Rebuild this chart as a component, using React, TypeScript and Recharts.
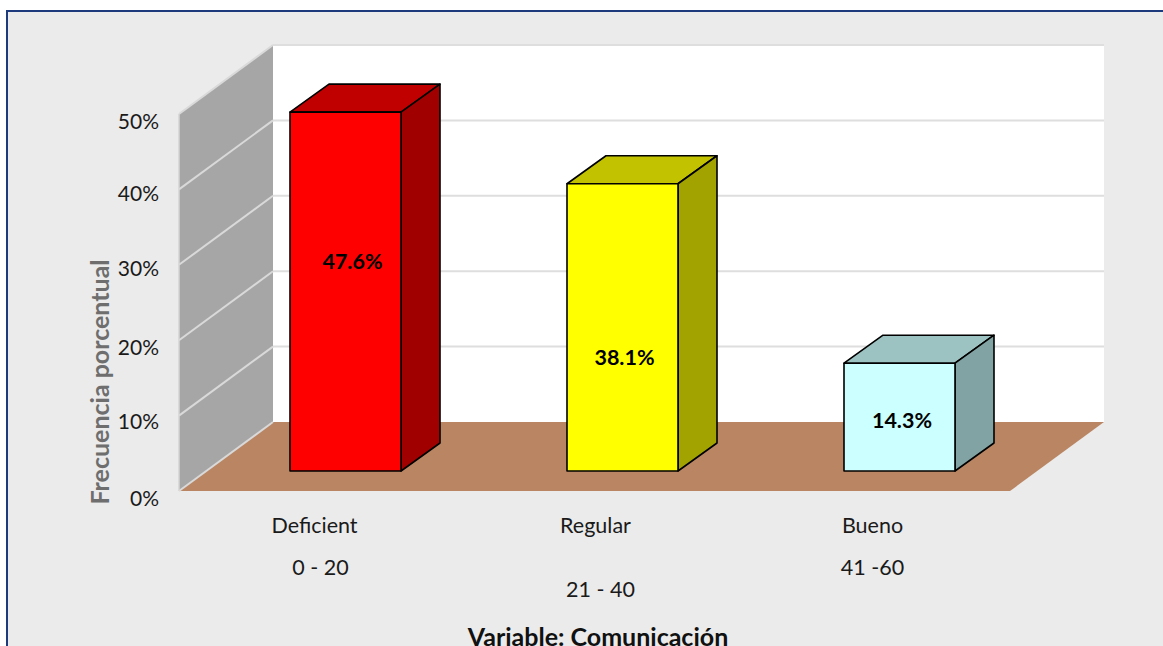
import React from "react";
import { BarChart, Bar, XAxis, YAxis, CartesianGrid, LabelList, Label } from "recharts";

const categories = ["Deficient", "Regular", "Bueno"];
const ranges = ["0 - 20", "21 - 40", "41 -60"];
const percentages = [47.6, 38.1, 14.3];
const yTicks = [0, 10, 20, 30, 40, 50];
const faceColors = ["#ff0000", "#ffff00", "#ccffff"];
const topColors = ["#c00000", "#c2c200", "#9cc3c1"];
const sideColors = ["#a00000", "#a3a300", "#82a3a3"];

const rows = categories.map((category, i) => ({ category, range: ranges[i], value: percentages[i] }));

const W = 1163, H = 646;
const PLOT = { left: 179, right: 1010, top: 114, bottom: 491 };
const WALL = { dx: 94, dy: -69 };
const BAR_SHIFT = { dx: 28, dy: -20 };
const DEPTH = { dx: 39, dy: -28 };
const BAR_WIDTH = 111;
const Y_AXIS_W = 60, X_AXIS_H = 60;
const FONT = "Lato, 'Open Sans', sans-serif";
const TEXT = "#1a1a1a";
const LABEL_NUDGE = [{ x: 7, y: -31 }, { x: 2, y: 30 }, { x: 2.5, y: 3 }];
const NAME_NUDGE = [-3, 1, 1];
const RANGE_NUDGE = [3, 6, 1];
const RANGE_Y = [77, 99, 77];
const TICK_NUDGE: Record<number, number> = { 0: 0, 10: -1, 20: 0, 30: -3, 40: -3, 50: 0 };

const pts = (p: number[][]) => p.map((q) => q.join(",")).join(" ");

function Walls() {
  const { left: l, right: r, top: t, bottom: b } = PLOT;
  const { dx, dy } = WALL;
  return (
    <svg width={W} height={H} style={{ position: "absolute", left: 0, top: 0 }}>
      <polygon points={pts([[l + dx, t + dy], [r + dx, t + dy], [r + dx, b + dy], [l + dx, b + dy]])} fill="#ffffff" stroke="none" />
      <polygon points={pts([[l, t], [l + dx, t + dy], [l + dx, b + dy], [l, b]])} fill="#a6a6a6" />
      <polygon points={pts([[l, b], [l + dx, b + dy], [r + dx, b + dy], [r, b]])} fill="#b98563" />
      <line x1={l} y1={t} x2={l} y2={b} stroke="#d4d4d4" strokeWidth={1.5} />
    </svg>
  );
}

function GridLine(props: any) {
  const { x1, x2, y1 } = props;
  const { dx, dy } = WALL;
  return (
    <g>
      <line x1={x1} y1={y1} x2={x1 + dx} y2={y1 + dy} stroke="#d9d9d9" strokeWidth={2} />
      {y1 < PLOT.bottom - 1 && <line x1={x1 + dx} y1={y1 + dy} x2={x2 + dx} y2={y1 + dy} stroke="#dedede" strokeWidth={2} />}
    </g>
  );
}

function Box3D(props: any) {
  const { x, y, width, height, index } = props;
  const fx = x + BAR_SHIFT.dx, fy = y + BAR_SHIFT.dy;
  const { dx, dy } = DEPTH;
  const common = { stroke: "#000", strokeWidth: 1.6, strokeLinejoin: "round" as const };
  return (
    <g>
      <polygon points={pts([[fx, fy], [fx + dx, fy + dy], [fx + width + dx, fy + dy], [fx + width, fy]])} fill={topColors[index]} {...common} />
      <polygon points={pts([[fx + width, fy], [fx + width + dx, fy + dy], [fx + width + dx, fy + height + dy], [fx + width, fy + height]])} fill={sideColors[index]} {...common} />
      <rect x={fx} y={fy} width={width} height={height} fill={faceColors[index]} {...common} />
    </g>
  );
}

function BarValue(props: any) {
  const { x, y, width, height, value, index } = props;
  return (
    <text
      x={x + width / 2 + BAR_SHIFT.dx + LABEL_NUDGE[index].x}
      y={y + height / 2 + BAR_SHIFT.dy + LABEL_NUDGE[index].y}
      textAnchor="middle"
      dominantBaseline="central"
      fontFamily={FONT}
      fontWeight={700}
      fontSize={21.5}
      fill="#000"
    >
      {value.toFixed(1)}%
    </text>
  );
}

function CategoryTick(props: any) {
  const { x, y, index, payload } = props;
  const base = y - 8;
  return (
    <g fontFamily={FONT} fontSize={21.5} fill={TEXT} textAnchor="middle">
      <text x={x + NAME_NUDGE[index]} y={base + 42}>{payload.value}</text>
      <text x={x + RANGE_NUDGE[index]} y={base + RANGE_Y[index] + 7}>{ranges[index]}</text>
    </g>
  );
}

function PercentTick(props: any) {
  const { y, payload } = props;
  return (
    <text x={PLOT.left - 20} y={y + 6 + TICK_NUDGE[payload.value]} dominantBaseline="central" textAnchor="end" fontFamily={FONT} fontSize={21} fill={TEXT}>
      {payload.value}%
    </text>
  );
}

export default function App() {
  return (
    <div style={{ position: "fixed", left: 0, top: 0, width: W, height: H, overflow: "hidden", background: "#fff" }}>
      <div style={{ position: "absolute", left: 6, top: 10, width: W, height: H, background: "#ebebeb", border: "2px solid #1c3a7c", boxSizing: "border-box" }} />
      <Walls />
      <div style={{ position: "absolute", left: 0, top: 0 }}>
        <BarChart
          width={W}
          height={H}
          data={rows}
          barSize={BAR_WIDTH}
          margin={{ left: PLOT.left - Y_AXIS_W, right: W - PLOT.right, top: PLOT.top, bottom: H - PLOT.bottom - X_AXIS_H }}
        >
          <CartesianGrid vertical={false} horizontal={(p: any) => <GridLine key={p.key ?? p.index} {...p} />} />
          <XAxis dataKey="category" axisLine={false} tickLine={false} height={X_AXIS_H} interval={0} tick={CategoryTick}>
            <Label
              content={() => (
                <text x={598} y={646} textAnchor="middle" fontFamily={FONT} fontWeight={700} fontSize={25} fill="#111">
                  Variable: Comunicación
                </text>
              )}
            />
          </XAxis>
          <YAxis width={Y_AXIS_W} domain={[0, 50]} ticks={yTicks} axisLine={false} tickLine={false} tick={PercentTick}>
            <Label
              content={() => (
                <text transform="translate(109,382) rotate(-90)" textAnchor="middle" fontFamily={FONT} fontWeight={700} fontSize={25} fill="#6e6e6e">
                  Frecuencia porcentual
                </text>
              )}
            />
          </YAxis>
          <Bar dataKey="value" isAnimationActive={false} shape={Box3D}>
            <LabelList dataKey="value" content={BarValue} />
          </Bar>
        </BarChart>
      </div>
    </div>
  );
}
